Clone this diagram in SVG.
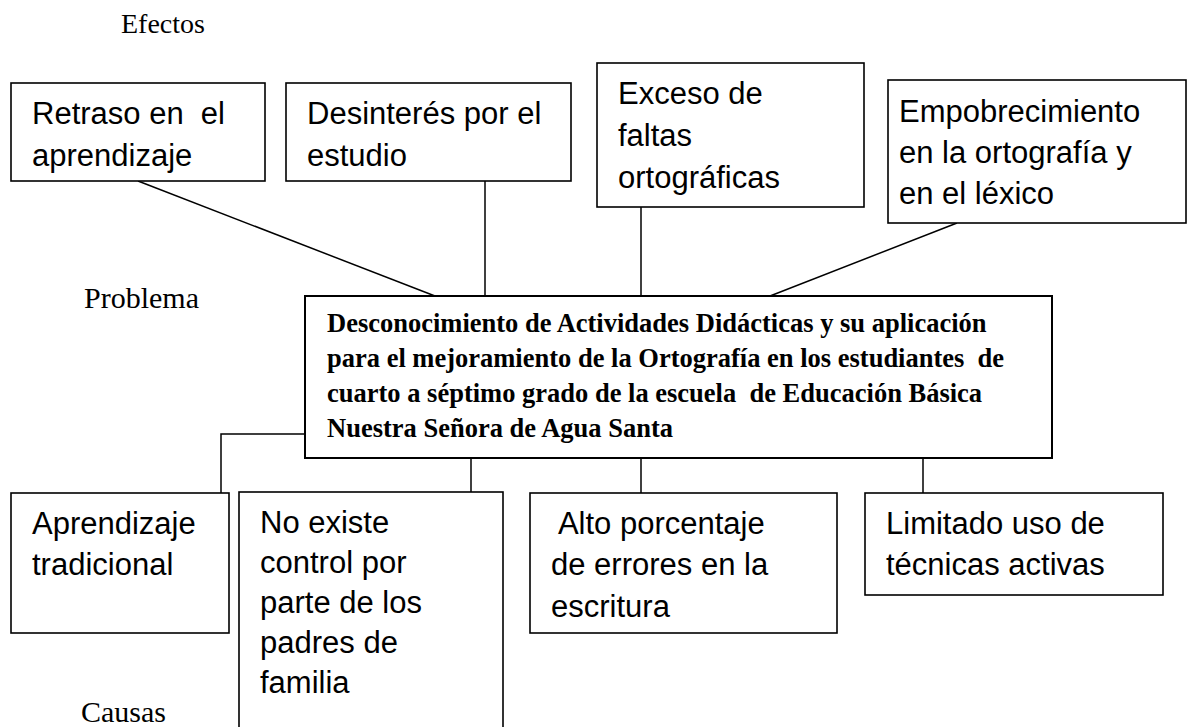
<svg xmlns="http://www.w3.org/2000/svg" width="1188" height="727" viewBox="0 0 1188 727">
<style>
.box{fill:#fff;stroke:#000;stroke-width:1.6}
.ln{fill:none;stroke:#000;stroke-width:1.5}
.t{font-family:"Liberation Sans",Arial,sans-serif;font-size:31px;fill:#000;white-space:pre}
.p{font-family:"Liberation Serif","Times New Roman",serif;font-size:26.5px;font-weight:bold;fill:#000;white-space:pre}
.lab{font-family:"Liberation Serif","Times New Roman",serif;font-size:30px;fill:#000}
</style>
<rect width="1188" height="727" fill="#fff"/>
<g id="labels">
<text class="lab" x="121" y="33" style="font-size:28px">Efectos</text>
<text class="lab" x="84" y="308">Problema</text>
<text class="lab" x="81" y="722">Causas</text>
</g>
<g id="connectors">
<line class="ln" x1="138" y1="181" x2="435" y2="296"/>
<line class="ln" x1="485" y1="181" x2="485" y2="296"/>
<line class="ln" x1="641" y1="207" x2="641" y2="296"/>
<line class="ln" x1="957" y1="223" x2="770" y2="296"/>
<polyline class="ln" points="305,434 221,434 221,493"/>
<line class="ln" x1="471" y1="458" x2="471" y2="492"/>
<line class="ln" x1="641" y1="458" x2="641" y2="493"/>
<line class="ln" x1="923" y1="458" x2="923" y2="493"/>
</g>
<g id="effect1">
<rect class="box" x="11" y="83" width="254" height="98"/>
<text class="t" x="32" y="124">Retraso en  el</text>
<text class="t" x="32" y="166">aprendizaje</text>
</g>
<g id="effect2">
<rect class="box" x="286" y="83" width="285" height="98"/>
<text class="t" x="307" y="124">Desinterés por el</text>
<text class="t" x="307" y="166">estudio</text>
</g>
<g id="effect3">
<rect class="box" x="597" y="63" width="267" height="144"/>
<text class="t" x="618" y="104">Exceso de</text>
<text class="t" x="618" y="146">faltas</text>
<text class="t" x="618" y="188">ortográficas</text>
</g>
<g id="effect4">
<rect class="box" x="888" y="80" width="298" height="143"/>
<text class="t" x="899" y="122">Empobrecimiento</text>
<text class="t" x="899" y="163">en la ortografía y</text>
<text class="t" x="899" y="204">en el léxico</text>
</g>
<g id="problem">
<rect class="box" x="305" y="296" width="747" height="162" style="stroke-width:2"/>
<text class="p" x="327" y="332">Desconocimiento de Actividades Didácticas y su aplicación</text>
<text class="p" x="327" y="367">para el mejoramiento de la Ortografía en los estudiantes  de</text>
<text class="p" x="327" y="402">cuarto a séptimo grado de la escuela  de Educación Básica</text>
<text class="p" x="327" y="437">Nuestra Señora de Agua Santa</text>
</g>
<g id="cause1">
<rect class="box" x="11" y="493" width="218" height="140"/>
<text class="t" x="32" y="534">Aprendizaje</text>
<text class="t" x="32" y="575">tradicional</text>
</g>
<g id="cause2">
<rect class="box" x="239" y="492" width="264" height="250"/>
<text class="t" x="260" y="533">No existe</text>
<text class="t" x="260" y="573">control por</text>
<text class="t" x="260" y="613">parte de los</text>
<text class="t" x="260" y="653">padres de</text>
<text class="t" x="260" y="693">familia</text>
</g>
<g id="cause3">
<rect class="box" x="530" y="493" width="307" height="140"/>
<text class="t" x="551" y="534"> Alto porcentaje</text>
<text class="t" x="551" y="575">de errores en la</text>
<text class="t" x="551" y="617">escritura</text>
</g>
<g id="cause4">
<rect class="box" x="865" y="493" width="298" height="102"/>
<text class="t" x="886" y="534">Limitado uso de</text>
<text class="t" x="886" y="575">técnicas activas</text>
</g>
</svg>
